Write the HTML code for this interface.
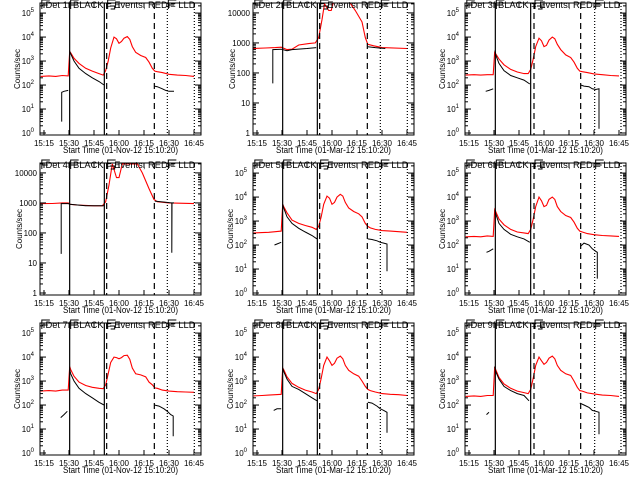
<!DOCTYPE html>
<html><head><meta charset="utf-8"><style>
html,body{margin:0;padding:0;background:#fff}
svg{display:block;font-family:"Liberation Sans",sans-serif}
</style></head><body>
<svg id="chart" width="640" height="480" viewBox="0 0 640 480" xmlns="http://www.w3.org/2000/svg"></svg>
<script>
// Shared red-series time grid (minutes after 15:00)
var redTimes = [13,18,22,26,29.5,30.4,31,33,36,40,44,48,50.5,52,53.5,55,57,58.5,60,61.5,63,65,66.5,68,70,73,76,78,80,81.5,83,86,90,95,100,105];
var red1 = [230,240,230,250,240,2500,2200,1300,800,500,380,300,260,400,1000,3500,10000,8500,5500,6500,9000,10500,8000,4000,2300,1700,1400,900,500,380,360,330,280,260,250,230];
var red3 = [260,270,260,270,270,2500,2000,1200,700,450,350,300,300,450,1200,4000,9000,7000,4000,4500,7500,10000,8500,5000,3000,1800,1400,900,500,380,360,330,290,270,250,240];
var red5 = [320,330,340,360,380,5000,4000,2200,1100,800,650,550,450,600,1500,5000,11000,9000,5000,6000,10000,13000,11000,6000,3500,2500,2000,1500,800,600,520,450,400,380,360,340];
var red6 = [220,230,220,240,230,3000,2500,1200,700,450,350,320,300,450,1200,4000,10000,7000,4000,4500,8000,10000,8000,4000,2500,1700,1400,900,500,380,350,300,270,250,240,230];
var red7 = [380,400,380,420,420,4000,3000,1600,900,650,550,500,480,700,2000,6000,10000,9500,8500,9500,11500,12000,8000,3500,2000,1800,1500,900,700,520,500,420,380,360,350,340];
var red8 = [240,250,260,270,280,3500,3000,1500,800,550,420,350,300,450,1300,4500,10000,7000,4500,5500,9000,11000,8500,4500,2800,2000,1600,1000,600,450,400,350,300,280,270,250];
var red9 = [230,240,230,250,250,4000,3000,1400,750,500,380,330,300,450,1300,4500,10000,7000,5000,6000,9000,11000,8500,4500,2800,2000,1700,1000,550,400,380,320,290,260,250,230];
var red2Times = [12.6,20,26,29.5,33,36,40,46,50,52,54,55.5,58,59.5,61,70,74,78,80,81.5,85,90,105];
var red2 = [650,680,700,720,600,620,850,950,1000,1500,6000,20000,12000,12000,25000,25000,12000,5000,1500,900,800,700,650];
var red4Times = [12.6,20,26,29.5,30.5,35,45,50,52,54,56,58.5,60,62,71,74,78,81,83,90,105];
var red4 = [950,960,1000,1000,900,850,800,800,1100,4000,20000,7000,7000,20000,20000,10000,3000,1300,1100,1000,950];
// Black (events) series
var blk1Times = [25.6,25.6,27,29.5,null,30.4,31,33,36,40,44,48,51,null,81.2,83,86,88,90,93];
var blk1 = [3,50,55,60,null,2500,2000,1000,500,300,200,140,100,null,90,85,70,60,55,55];
var blk2Times = [24.5,24.5,29.5,33,36,45,50.5,null,81.5,86,92];
var blk2 = [45,600,620,550,600,650,700,null,750,700,650];
var blk3Times = [25,27,29.5,null,30.6,31,33,36,40,44,48,51.5,null,82,84,87,89,91,93,93];
var blk3 = [55,60,70,null,2800,1800,800,400,250,200,160,110,null,100,90,85,70,65,70,1.5];
var blk4Times = [25.3,25.3,29.5,30.4,40,51,null,81.5,88,91.7,91.7,91.8,93];
var blk4 = [20,950,950,900,800,800,null,1150,1050,1000,22,1000,1000];
var blk5Times = [25.5,27,29.5,null,30.4,31,33,36,40,44,48,51,null,81.5,84,87,89,91,93,93];
var blk5 = [100,110,130,null,5000,3500,1500,800,500,350,250,180,null,180,170,150,130,120,110,8];
var blk6Times = [25.5,27,29.5,null,30.6,31,33,36,40,44,48,51.5,null,82,84,87,89,91,92,92];
var blk6 = [50,55,70,null,3000,2000,800,450,280,220,180,130,null,90,120,100,70,55,50,4];
var blk7Times = [25,27,29,null,30.4,31,33,36,40,44,48,51,null,81.2,84,87,89,91,92.5,92.5];
var blk7 = [30,40,55,null,3000,2000,1000,500,300,200,130,100,null,100,90,70,55,40,35,5];
var blk8Times = [25,27,29.5,null,30.4,31,33,36,40,44,48,51,null,81.5,84,87,89,91,93,93];
var blk8 = [60,70,70,null,3500,2500,1200,600,450,300,200,150,null,130,120,90,70,60,50,7];
var blk9Times = [25.5,27,null,30.4,31,33,36,40,44,48,51,null,81.5,84,87,89,91,93,93];
var blk9 = [40,50,null,4000,2500,1200,600,400,300,250,150,null,120,100,80,60,55,50,6];
var xTickLabels = ["15:15","15:30","15:45","16:00","16:15","16:30","16:45"];
var xTickTimes = [15,30,45,60,75,90,105];

var panels = [
 {n:1,rt:redTimes,r:red1,bt:blk1Times,b:blk1,plain:false,date:"01-Nov-12",sh:0},
 {n:2,rt:red2Times,r:red2,bt:blk2Times,b:blk2,plain:true,date:"01-Mar-12",sh:0},
 {n:3,rt:redTimes,r:red3,bt:blk3Times,b:blk3,plain:false,date:"01-Mar-12",sh:1},
 {n:4,rt:red4Times,r:red4,bt:blk4Times,b:blk4,plain:true,date:"01-Nov-12",sh:0},
 {n:5,rt:redTimes,r:red5,bt:blk5Times,b:blk5,plain:false,date:"01-Mar-12",sh:0},
 {n:6,rt:redTimes,r:red6,bt:blk6Times,b:blk6,plain:false,date:"01-Mar-12",sh:1},
 {n:7,rt:redTimes,r:red7,bt:blk7Times,b:blk7,plain:false,date:"01-Nov-12",sh:0},
 {n:8,rt:redTimes,r:red8,bt:blk8Times,b:blk8,plain:false,date:"01-Mar-12",sh:0},
 {n:9,rt:redTimes,r:red9,bt:blk9Times,b:blk9,plain:false,date:"01-Mar-12",sh:1}
];
var NS="http://www.w3.org/2000/svg";
var svg=document.getElementById('chart');
function mk(tag,attrs,parent){var e=document.createElementNS(NS,tag);for(var k in attrs)e.setAttribute(k,attrs[k]);(parent||svg).appendChild(e);return e;}
var lefts=[40,253,465];
var XMIN=12.6,XMAX=109.2;
panels.forEach(function(p,i){
  var col=i%3,row=Math.floor(i/3);
  var L=lefts[col],T=3+160*row,W=161,H=132,B=T+H;
  var ymin=p.plain?-0.067:-0.083, ymax=p.plain?4.33:5.42;
  function X(t){return L+(t-XMIN)/(XMAX-XMIN)*W;}
  function Y(v){return B-(Math.log10(v)-ymin)/(ymax-ymin)*H;}
  var g=mk('g',{});
  
  
  var cid='clip'+p.n;
  var cp=mk('clipPath',{id:cid},g);mk('rect',{x:L,y:T,width:W,height:H},cp);
  function path(ts,vs){var d='',pen=false;for(var k=0;k<ts.length;k++){if(ts[k]===null||vs[k]===null){pen=false;continue;}d+=(pen?'L':'M')+X(ts[k]).toFixed(1)+','+Y(vs[k]).toFixed(1);pen=true;}return d;}
  var rp=mk('path',{d:path(p.rt,p.r),fill:'none',stroke:'#ff0000','stroke-width':1.1,'clip-path':'url(#'+cid+')'},g);
  
  
  var bp=mk('path',{d:path(p.bt,p.b),fill:'none',stroke:'#000','stroke-width':1,'clip-path':'url(#'+cid+')'},g);
  
  
  var s=p.sh?[30.8,52,54,82,90.4,106.2]:[30.4,51.2,52.6,81.2,89,105.2];
  var styles=[null,null,'6,4','6,4','1,2','1,2'];
  for(var k=0;k<6;k++){var ln=mk('line',{x1:X(s[k]),x2:X(s[k]),y1:T,y2:B,stroke:'#000','stroke-width':1.2},g);if(styles[k])ln.setAttribute('stroke-dasharray',styles[k]);
    
    }
  [XMIN+0.5,s[0],s[2],s[4]].forEach(function(t,j){var x=X(t)+1;
    var m=mk('path',{d:'M'+x+','+(T+6)+'V'+(T-3)+'H'+(x+8)+(j==2?'M'+(x+2)+','+(T+3)+'h5v3h-4':'M'+x+','+(T+2)+'H'+(x+6)),fill:'none',stroke:'#000','stroke-width':1},g);
    
    });
  var bx=mk('rect',{x:L,y:T,width:W,height:H,fill:'none',stroke:'#000','stroke-width':1},g);
  
  
  var maxDec=p.plain?4:5;
  for(var d=0;d<=maxDec;d++){
    var y=Y(Math.pow(10,d));
    mk('line',{x1:L,x2:L+6,y1:y,y2:y,stroke:'#000'},g);
    mk('line',{x1:L+W-6,x2:L+W,y1:y,y2:y,stroke:'#000'},g);
    for(var m2=2;m2<10;m2++){var yy=Y(m2*Math.pow(10,d));if(yy<T)break;mk('line',{x1:L,x2:L+3,y1:yy,y2:yy,stroke:'#000'},g);mk('line',{x1:L+W-3,x2:L+W,y1:yy,y2:yy,stroke:'#000'},g);}
    var tl=mk('text',{x:L-3,y:y+3,'font-size':8,'text-anchor':'end'},g);
    
    
    if(p.plain){tl.textContent=String(Math.pow(10,d));}
    else{tl.textContent='10';var sp=mk('tspan',{dy:-4,'font-size':6},tl);sp.textContent=String(d);tl.setAttribute('x',L-6);}
  }
  xTickTimes.forEach(function(t,k){var x=X(t);
    mk('line',{x1:x,x2:x,y1:B,y2:B-5,stroke:'#000'},g);
    mk('line',{x1:x,x2:x,y1:T,y2:T+5,stroke:'#000'},g);
    var xl=mk('text',{x:x,y:B+11,'font-size':8,'text-anchor':'middle'},g);
    
    
    xl.textContent=xTickLabels[k];});
  var xt=mk('text',{x:L+W/2,y:B+18,'font-size':9,'text-anchor':'middle',textLength:115,lengthAdjust:'spacingAndGlyphs'},g);
  
  
  xt.textContent='Start Time ('+p.date+' 15:10:20)';
  var yt=mk('text',{x:0,y:0,'font-size':8,'text-anchor':'middle',transform:'translate('+(L-(p.plain?18:20))+','+(T+H/2)+') rotate(-90)'},g);
  
  
  yt.textContent='Counts/sec';
  var ti=mk('text',{x:L+W/2,y:T+5,'font-size':9,'text-anchor':'middle',textLength:150,lengthAdjust:'spacingAndGlyphs'},g);
  
  
  ti.textContent='Det '+p.n+'f BLACK = Events, RED = LLD';
});
</script>
</body></html>
